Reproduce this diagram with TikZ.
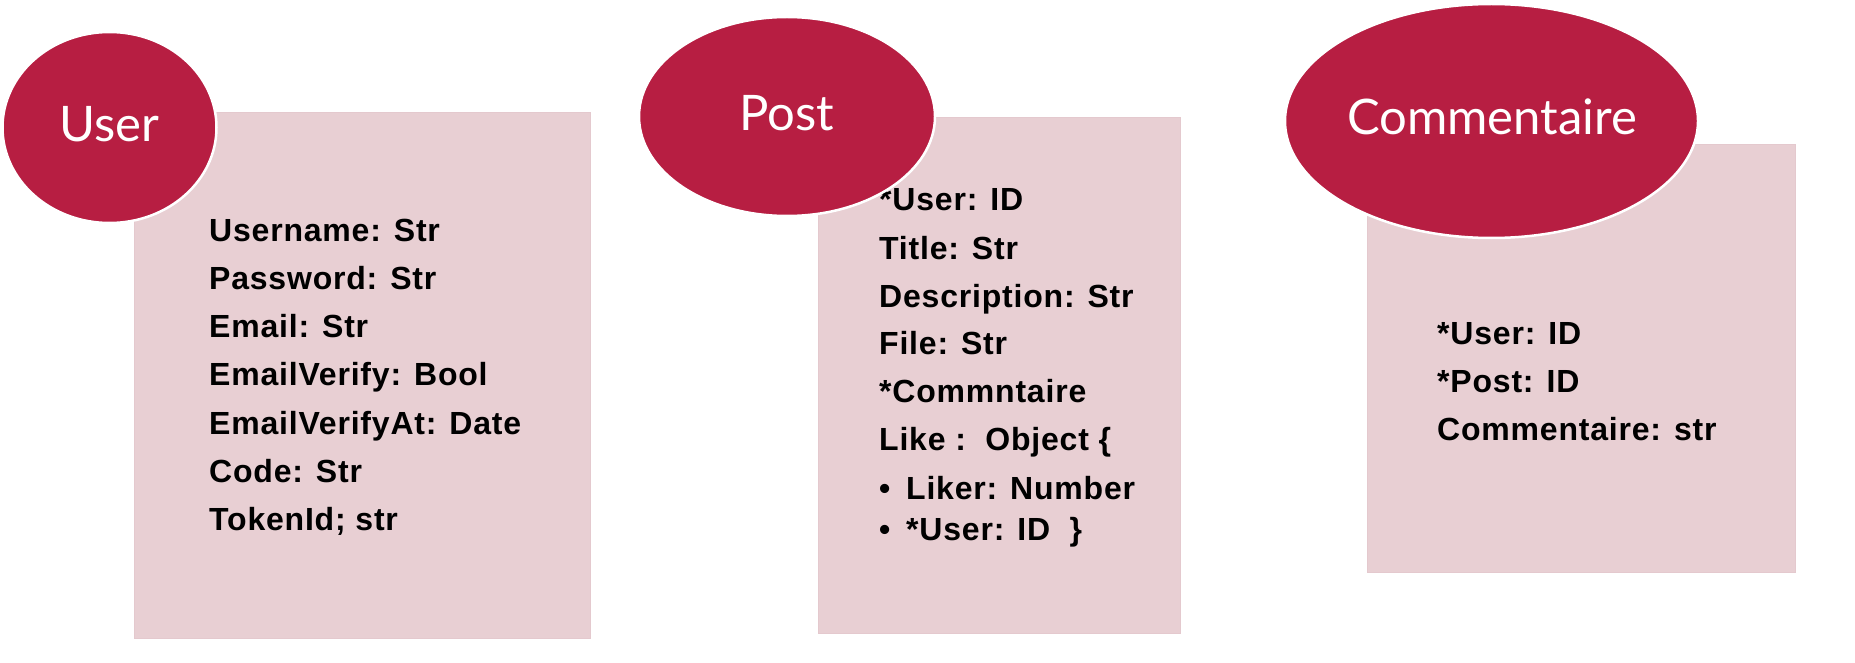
\documentclass[tikz,border=0pt]{standalone}
\usepackage{fontspec}
\setmainfont{Liberation Sans}
\newfontfamily\fieldfont{Liberation Sans}[LetterSpace=2.5]
\newfontfamily\titlefont{Lato}
\usetikzlibrary{shapes.geometric}
\definecolor{crim}{HTML}{B71E42}
\definecolor{pinkbox}{HTML}{E8CFD3}
\definecolor{pinkedge}{HTML}{E4C9CE}
\tikzset{
  box/.style={rectangle, fill=pinkbox, draw=pinkedge, line width=1pt, inner sep=0pt, anchor=north west},
  head/.style={ellipse, fill=crim, draw=white, line width=2.5pt, inner sep=0pt},
  title/.style={anchor=base, text=white, inner sep=0pt, font=\titlefont\fontsize{49}{58}\selectfont},
  field/.style={anchor=base west, inner sep=0pt, font=\fieldfont\bfseries\fontsize{32}{38}\selectfont}
}
\begin{document}
\begin{tikzpicture}[x=1pt,y=-1pt]
\useasboundingbox (0,0) rectangle (1855,663);
% boxes
\node[box, minimum width=456pt, minimum height=526pt] (userB) at (134,112) {};
\node[box, minimum width=362pt, minimum height=516pt] (postB) at (818,117) {};
\node[box, minimum width=428pt, minimum height=428pt] (comB) at (1367,144) {};
% user fields
\node[field] (u1) at (209,241) {Username: Str};
\node[field] (u2) at (209,289) {Password: Str};
\node[field] (u3) at (209,337) {Email: Str};
\node[field] (u4) at (209,385) {EmailVerify: Bool};
\node[field] (u5) at (209,434) {EmailVerifyAt: Date};
\node[field] (u6) at (209,482) {Code: Str};
\node[field] (u7) at (209,530) {TokenId; str};
% post fields
\node[field] (p1) at (879,211) {*User: ID};
\node[field] (p2) at (879,259) {Title: Str};
\node[field] (p3) at (879,307) {Description: Str};
\node[field] (p4) at (879,354) {File: Str};
\node[field] (p5) at (879,402) {*Commntaire};
\node[field] (p6) at (879,450) {Like :\ \ Object \{};
\node[field] (b1) at (879,499) {\textbullet};
\node[field] (p7) at (906,499) {Liker: Number};
\node[field] (b2) at (879,540) {\textbullet};
\node[field] (p8) at (906,540) {*User: ID\ \ \}};
% commentaire fields
\node[field] (c1) at (1437,344) {*User: ID};
\node[field] (c2) at (1437,392) {*Post: ID};
\node[field] (c3) at (1437,440) {Commentaire: str};
% headers
\node[head, minimum width=214pt, minimum height=191pt] (userE) at (109.5,127.5) {};
\node[head, minimum width=296pt, minimum height=199pt] (postE) at (787,116.5) {};
\node[head, minimum width=413pt, minimum height=234pt] (comE) at (1491.5,121) {};
\node[title] (userT) at (109,142) {User};
\node[title] (postT) at (787,131) {Post};
\node[title] (comT) at (1492,135) {Commentaire};
\end{tikzpicture}
\end{document}
